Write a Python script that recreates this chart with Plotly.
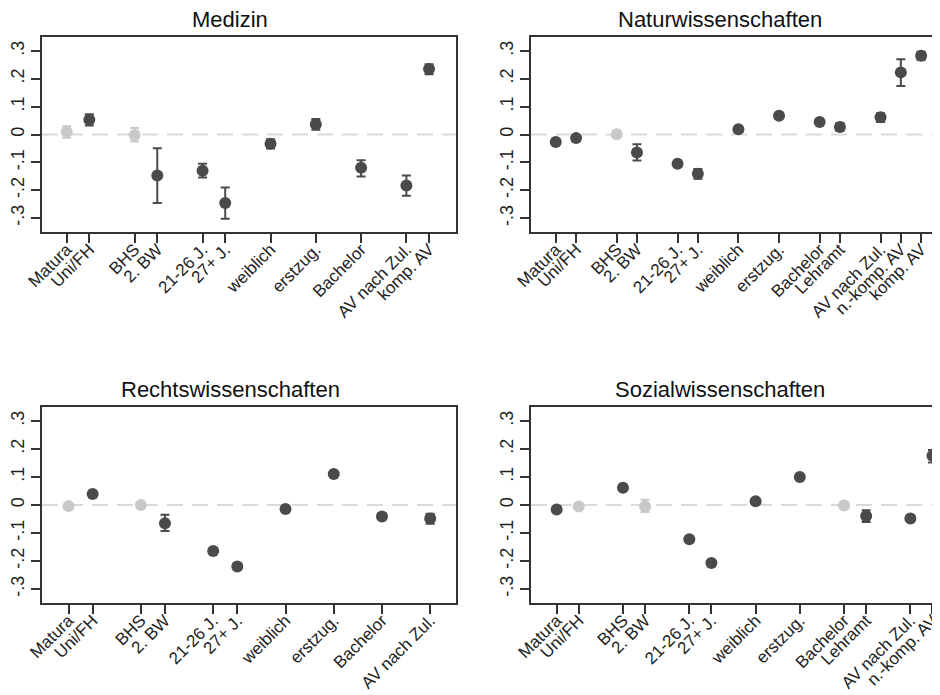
import plotly.graph_objects as go

# ---------------- data ----------------
med_groups = [["Matura", "Uni/FH"], ["BHS", "2. BW"], ["21-26 J.", "27+ J."], ["weiblich"],
              ["erstzug."], ["Bachelor"], ["AV nach Zul.", "komp. AV"]]
med_est = [0.010, 0.053, -0.002, -0.147, -0.130, -0.246, -0.033, 0.037, -0.119, -0.183, 0.235]
med_lo = [-0.012, 0.032, -0.025, -0.246, -0.154, -0.302, -0.050, 0.017, -0.151, -0.220, 0.216]
med_hi = [0.030, 0.073, 0.023, -0.049, -0.105, -0.190, -0.017, 0.056, -0.092, -0.147, 0.252]
med_ref = ["Matura", "BHS"]

nat_groups = [["Matura", "Uni/FH"], ["BHS", "2. BW"], ["21-26 J.", "27+ J."], ["weiblich"],
              ["erstzug."], ["Bachelor", "Lehramt"], ["AV nach Zul.", "n.-komp. AV", "komp. AV"]]
nat_est = [-0.027, -0.013, 0.001, -0.065, -0.105, -0.141, 0.019, 0.067, 0.045, 0.027, 0.062, 0.223, 0.283]
nat_lo = [-0.038, -0.024, -0.007, -0.093, -0.115, -0.159, 0.011, 0.058, 0.035, 0.013, 0.045, 0.174, 0.268]
nat_hi = [-0.016, -0.002, 0.009, -0.035, -0.095, -0.124, 0.027, 0.076, 0.055, 0.041, 0.076, 0.270, 0.297]
nat_ref = ["BHS"]

jus_groups = [["Matura", "Uni/FH"], ["BHS", "2. BW"], ["21-26 J.", "27+ J."], ["weiblich"],
              ["erstzug."], ["Bachelor"], ["AV nach Zul."]]
jus_est = [-0.004, 0.039, 0.000, -0.065, -0.164, -0.220, -0.014, 0.111, -0.041, -0.048]
jus_lo = [-0.011, 0.029, -0.007, -0.093, -0.174, -0.230, -0.022, 0.103, -0.051, -0.067]
jus_hi = [0.003, 0.049, 0.007, -0.035, -0.154, -0.210, -0.006, 0.119, -0.031, -0.031]
jus_ref = ["Matura", "BHS"]

soz_groups = [["Matura", "Uni/FH"], ["BHS", "2. BW"], ["21-26 J.", "27+ J."], ["weiblich"],
              ["erstzug."], ["Bachelor", "Lehramt"], ["AV nach Zul.", "n.-komp. AV"]]
soz_est = [-0.016, -0.005, 0.062, -0.005, -0.122, -0.207, 0.013, 0.100, -0.002, -0.039, -0.048, 0.176]
soz_lo = [-0.024, -0.013, 0.054, -0.025, -0.130, -0.217, 0.005, 0.092, -0.010, -0.061, -0.056, 0.152]
soz_hi = [-0.008, 0.003, 0.070, 0.019, -0.114, -0.197, 0.021, 0.108, 0.006, -0.019, -0.040, 0.196]
soz_ref = ["Uni/FH", "2. BW", "Bachelor"]

titles = ["Medizin", "Naturwissenschaften", "Rechtswissenschaften", "Sozialwissenschaften"]
y_ticks = [-0.3, -0.2, -0.1, 0, 0.1, 0.2, 0.3]
y_ticktext = ["-.3", "-.2", "-.1", "0", ".1", ".2", ".3"]

# ---------------- styling ----------------
DARK = "#4a4a4a"
LIGHT = "#c9c9c9"
FRAME = "#333333"
FONT = "Liberation Sans, Arial, sans-serif"

# the page body has an 8px margin: the figure is drawn from (8, 8) in the window
OFF = 8
W, H = 940 - OFF, 695 - OFF


def fx(px):
    return (px - OFF) / W


def fy(py):
    return 1 - (py - OFF) / H


panels = [
    (med_groups, med_est, med_lo, med_hi, med_ref),
    (nat_groups, nat_est, nat_lo, nat_hi, nat_ref),
    (jus_groups, jus_est, jus_lo, jus_hi, jus_ref),
    (soz_groups, soz_est, soz_lo, soz_hi, soz_ref),
]

# window pixel boxes of each plot frame: (left, right, top, bottom)
boxes = [(42, 456, 37, 232), (531, 940, 37, 232), (42, 456, 407, 603), (531, 940, 407, 603)]
x_ranges = [[-0.09, 18.19], [-0.22, 19.93], [-0.10, 17.07], [-0.16, 18.34]]
title_pos = [(230, 19), (720, 19), (230, 389), (720, 389)]

fig = go.Figure()
layout = dict(template="none", width=W, height=H, margin=dict(l=0, r=0, t=0, b=0, pad=0),
              paper_bgcolor="white", plot_bgcolor="white", showlegend=False,
              font=dict(family=FONT, color="#222222"))
shapes = []
annotations = []

for i, (groups, est, lo, hi, ref) in enumerate(panels):
    n = i + 1
    xa = "x" if n == 1 else f"x{n}"
    ya = "y" if n == 1 else f"y{n}"
    # positions from groups: consecutive within a group, one empty slot between groups
    cats, pos = [], []
    p = 1
    for g in groups:
        for c in g:
            cats.append(c)
            pos.append(p)
            p += 1
        p += 1
    for is_ref, color in ((False, DARK), (True, LIGHT)):
        idx = [k for k, c in enumerate(cats) if (c in ref) == is_ref]
        if not idx:
            continue
        fig.add_trace(go.Scatter(
            x=[pos[k] for k in idx], y=[est[k] for k in idx],
            mode="markers", xaxis=xa, yaxis=ya,
            marker=dict(color=color, size=12, symbol="circle", line=dict(width=0)),
            error_y=dict(type="data", symmetric=False,
                         array=[hi[k] - est[k] for k in idx],
                         arrayminus=[est[k] - lo[k] for k in idx],
                         color=color, thickness=2, width=4.5),
            hoverinfo="skip"))
    l, r, t, b = boxes[i]
    right_panel = n in (2, 4)
    layout["xaxis" if n == 1 else f"xaxis{n}"] = dict(
        domain=[fx(l), min(1.0, fx(r))], range=x_ranges[i], anchor=ya, automargin=False,
        tickmode="array", tickvals=pos, ticktext=cats, tickangle=-45,
        ticklabeloverflow="allow", ticklabelstandoff=-10,
        ticks="outside", ticklen=9, tickwidth=1.5, tickcolor=FRAME,
        tickfont=dict(size=17, color="#222222", family=FONT),
        showline=True, linecolor=FRAME, linewidth=1.8, mirror=True,
        showgrid=False, zeroline=False, fixedrange=True)
    layout["yaxis" if n == 1 else f"yaxis{n}"] = dict(
        domain=[fy(b), fy(t)], range=[-0.35, 0.35], anchor=xa, automargin=False,
        tickmode="array", tickvals=y_ticks, ticktext=y_ticktext, tickangle=-90,
        ticks="outside", ticklen=9, tickwidth=1.5, tickcolor=FRAME,
        tickfont=dict(size=18, color="#222222", family=FONT),
        showline=True, linecolor=FRAME, linewidth=1.8, mirror=not right_panel,
        showgrid=False, zeroline=False, fixedrange=True)
    shapes.append(dict(type="line", xref=f"{xa} domain", yref=ya, x0=0, x1=1, y0=0, y1=0,
                       line=dict(color="#dadada", width=2, dash="16px,9px"), layer="below"))
    tx, ty = title_pos[i]
    annotations.append(dict(text=titles[i], xref="paper", yref="paper",
                            x=fx(tx), y=fy(ty), xanchor="center", yanchor="middle",
                            height=22, valign="middle",
                            showarrow=False, font=dict(size=22, color="#111111", family=FONT)))

layout["shapes"] = shapes
layout["annotations"] = annotations
fig.update_layout(**layout)
fig.write_html("out.html")
